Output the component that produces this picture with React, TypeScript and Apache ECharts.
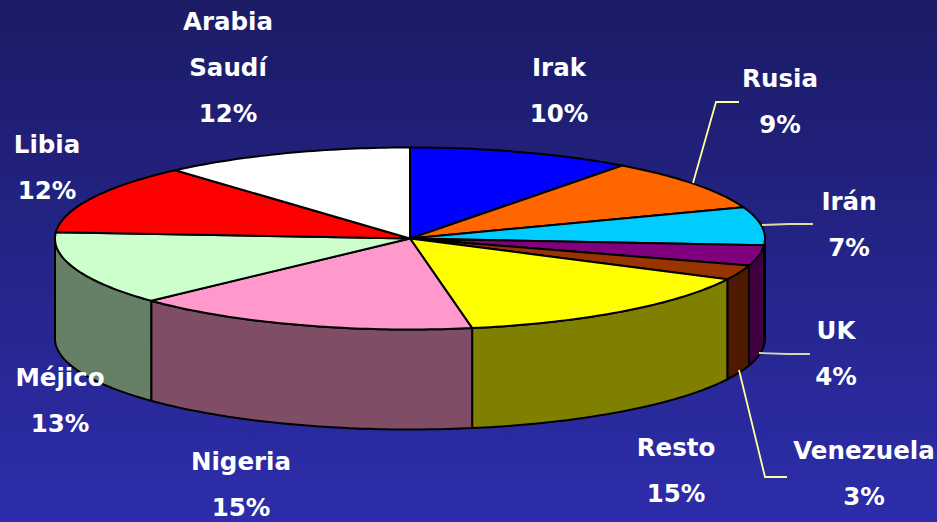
import React, { useEffect, useRef } from "react";
import * as echarts from "echarts";

const categories = ["Irak", "Rusia", "Irán", "UK", "Venezuela", "Resto", "Nigeria", "Méjico", "Libia", "Arabia\nSaudí"];
// Percentages printed in the labels
const labelPercents = [10, 9, 7, 4, 3, 15, 15, 13, 12, 12];
const shares = [10.2, 9.2, 6.8, 3.6, 2.6, 14.8, 15.8, 13.1, 12.4, 11.5];
const topColors = ["#0000ff", "#ff6600", "#00ccff", "#800080", "#993300", "#ffff00", "#ff99cc", "#ccffcc", "#ff0000", "#ffffff"];
const wallColors = ["#000080", "#803300", "#006680", "#400040", "#4d1a00", "#808000", "#804d66", "#668066", "#800000", "#808080"];
const labelAnchors = [
  [559, 67], [780, 78], [849, 201], [836, 330], [864, 450],
  [676, 447], [241, 461], [60, 377], [47, 144], [228, 21],
];
const leaderLines = [
  { pts: [[693, 183], [716, 102], [739, 102]], color: "#ffff99" },
  { pts: [[762, 225], [790, 224], [813, 224]], color: "#e0dca8" },
  { pts: [[759, 353], [787, 354], [810, 354]], color: "#d8d8b0" },
  { pts: [[739, 370], [765, 477], [787, 477]], color: "#ffff99" },
];

const CX = 410, CY = 238.5, RX = 355, RY = 91, DEPTH = 100;
const total = shares.reduce((a, b) => a + b, 0);
let acc = 0;
const sliceData = shares.map((v, i) => {
  const start = acc;
  acc += v;
  return [start, acc, i];
});
const toAngle = (s: number) => (s / total) * 2 * Math.PI;
const rim = (a: number, dy = 0) => [CX + RX * Math.sin(a), CY - RY * Math.cos(a) + dy];
const arc = (a0: number, a1: number, dy = 0) => {
  const n = Math.max(2, Math.ceil(((a1 - a0) * 180) / Math.PI));
  const out: number[][] = [];
  for (let k = 0; k <= n; k++) out.push(rim(a0 + ((a1 - a0) * k) / n, dy));
  return out;
};

const renderTop = (_: any, api: any) => {
  const a0 = toAngle(api.value(0)), a1 = toAngle(api.value(1));
  const i = api.value(2);
  return {
    type: "polygon",
    shape: { points: [[CX, CY], ...arc(a0, a1)] },
    style: { fill: topColors[i], stroke: "#000", lineWidth: 2, lineJoin: "round" },
  };
};
const renderWall = (_: any, api: any) => {
  const a0 = Math.max(toAngle(api.value(0)), Math.PI / 2);
  const a1 = Math.min(toAngle(api.value(1)), (3 * Math.PI) / 2);
  const i = api.value(2);
  if (a1 <= a0) return { type: "group", children: [] };
  return {
    type: "polygon",
    shape: { points: [...arc(a0, a1), ...arc(a0, a1, DEPTH).reverse()] },
    style: { fill: wallColors[i], stroke: "#000", lineWidth: 2, lineJoin: "round" },
  };
};

export default function App() {
  const ref = useRef<HTMLDivElement>(null);
  useEffect(() => {
    document.body.style.margin = "0";
    const chart = echarts.init(ref.current!, undefined, { renderer: "svg" });
    chart.setOption({
      animation: false,
      backgroundColor: new echarts.graphic.LinearGradient(0, 0, 0, 1, [
        { offset: 0, color: "#1b1b66" },
        { offset: 1, color: "#2d2dab" },
      ]),
      series: [
        { type: "custom", coordinateSystem: "none", renderItem: renderWall, data: sliceData, z: 2, silent: true },
        { type: "custom", coordinateSystem: "none", renderItem: renderTop, data: sliceData, z: 3, silent: true },
      ],
      graphic: [
        ...leaderLines.map((l) => ({
          type: "polyline",
          z: 50,
          shape: { points: l.pts },
          style: { stroke: l.color, lineWidth: 1.8, fill: "none" },
        })),
        ...categories.map((c, i) => ({
          type: "text",
          z: 60,
          x: labelAnchors[i][0],
          y: labelAnchors[i][1] - 23,
          style: {
            text: `${c}\n${labelPercents[i]}%`,
            fill: "#fff",
            font: 'bold 24.5px "DejaVu Sans"',
            lineHeight: 46,
            align: "center",
            verticalAlign: "top",
          },
        })),
      ],
    });
    return () => chart.dispose();
  }, []);
  return <div ref={ref} style={{ width: 937, height: 522 }} />;
}
